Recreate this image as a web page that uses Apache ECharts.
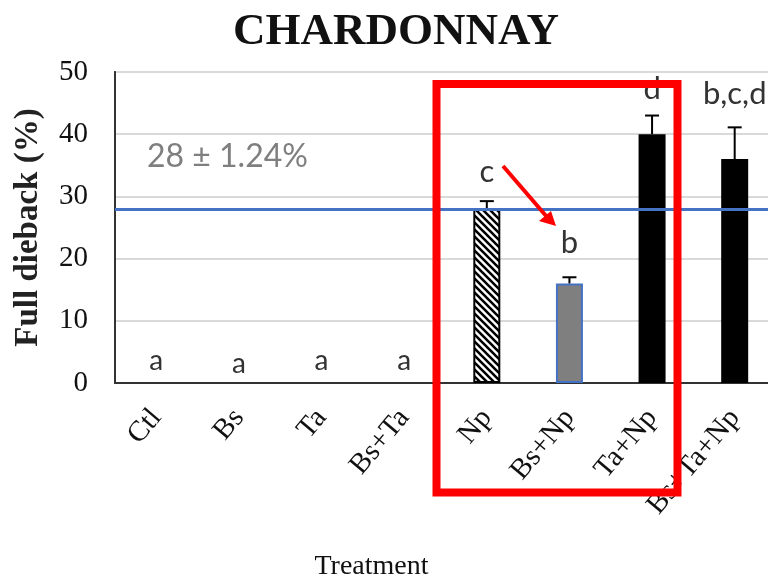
<!DOCTYPE html>
<html>
<head>
<meta charset="utf-8">
<script src="https://cdn.jsdelivr.net/npm/echarts@6/dist/echarts.min.js"></script>
<style>
  html, body { margin: 0; padding: 0; background: #ffffff; }
  #chart { width: 768px; height: 583px; }
</style>
</head>
<body>
<div id="chart"></div>
<script>
// Treatments and full dieback (%) per treatment
const categories = ['Ctl', 'Bs', 'Ta', 'Bs+Ta', 'Np', 'Bs+Np', 'Ta+Np', 'Bs+Ta+Np'];
const dieback = [0, 0, 0, 0, 28, 16, 40, 36];
const stdError = [0, 0, 0, 0, 1.24, 1.0, 3.0, 5.1];
// Statistical grouping letters and the height (in %) where each is written
const groupLetters = ['a', 'a', 'a', 'a', 'c', 'b', 'd', 'b,c,d'];
const letterHeights = [3.5, 3.0, 3.5, 3.5, 34, 22.5, 47.2, 46.5];
// Reference level of the Np treatment
const referenceLevel = 28;
const referenceText = '28 ± 1.24%';
// Y axis range
const yMin = 0, yMax = 50, yStep = 10;

const SERIF = '"Liberation Serif", "Times New Roman", serif';
const SANS = 'Lato, "Open Sans", sans-serif';

// Diagonal hatch fill for the Np bar
function hatchPattern() {
  const s = 7;
  const c = document.createElement('canvas');
  c.width = s; c.height = s;
  const g = c.getContext('2d');
  g.fillStyle = '#ffffff';
  g.fillRect(0, 0, s, s);
  g.strokeStyle = '#000000';
  g.lineWidth = 2.6;
  g.beginPath();
  for (let k = -1; k <= 1; k++) {
    g.moveTo(-1, -1 + k * s);
    g.lineTo(s + 1, s + 1 + k * s);
  }
  g.stroke();
  return c;
}

const barStyles = {
  'Np': { color: { image: hatchPattern(), repeat: 'repeat' }, borderColor: '#000000', borderWidth: 2 },
  'Bs+Np': { color: '#7f7f7f', borderColor: '#4472c4', borderWidth: 2 },
  'Ta+Np': { color: '#000000' },
  'Bs+Ta+Np': { color: '#000000' }
};

const barData = categories.map((c, i) => ({
  value: dieback[i],
  itemStyle: barStyles[c] || { color: '#000000' }
}));

const chart = echarts.init(document.getElementById('chart'), null, { renderer: 'canvas' });

chart.setOption({
  animation: false,
  backgroundColor: '#ffffff',
  title: {
    text: 'CHARDONNAY',
    left: 391,
    textAlign: 'center',
    top: 5,
    textStyle: { fontFamily: SERIF, fontWeight: 'bold', fontSize: 45, color: '#111111' }
  },
  grid: {
    left: 115, right: -8, top: 72, bottom: 200,
    containLabel: false,
    outerBoundsMode: 'none',
    show: true,
    borderColor: '#333333',
    borderWidth: 2,
    backgroundColor: 'transparent'
  },
  xAxis: {
    type: 'category',
    data: categories,
    boundaryGap: true,
    axisLine: { show: true, lineStyle: { color: '#333333', width: 2 } },
    axisTick: { show: false },
    axisLabel: {
      rotate: 50,
      margin: 30,
      interval: 0,
      fontFamily: SERIF,
      fontSize: 29,
      color: '#111111'
    },
    name: 'Treatment',
    nameLocation: 'middle',
    nameGap: 170,
    nameTextStyle: {
      fontFamily: SERIF, fontSize: 28, color: '#111111',
      padding: [0, 148, 0, 0]
    }
  },
  yAxis: {
    type: 'value',
    min: yMin, max: yMax, interval: yStep,
    axisLine: { show: true, lineStyle: { color: '#333333', width: 2 } },
    axisTick: { show: false },
    splitLine: { show: true, lineStyle: { color: '#d9d9d9', width: 2 } },
    axisLabel: {
      margin: 27,
      fontFamily: SERIF,
      fontSize: 29,
      color: '#111111'
    },
    name: 'Full dieback (%)',
    nameLocation: 'middle',
    nameRotate: 90,
    nameGap: 70,
    nameTextStyle: { fontFamily: SERIF, fontSize: 33, fontWeight: 'bold', color: '#222222' }
  },
  series: [
    {
      name: 'Full dieback',
      type: 'bar',
      data: barData,
      barWidth: 27,
      z: 2,
      markLine: {
        silent: true,
        symbol: ['none', 'none'],
        label: { show: false },
        lineStyle: { color: '#4472c4', width: 3, type: 'solid' },
        data: [{ yAxis: referenceLevel }]
      }
    },
    {
      name: 'Error',
      type: 'custom',
      z: 3,
      data: categories.map((c, i) => [i, dieback[i], stdError[i]]),
      renderItem(params, api) {
        const x = api.value(0), v = api.value(1), e = api.value(2);
        if (!e) return null;
        const base = api.coord([x, v]);
        const top = api.coord([x, v + e]);
        const hw = 7;
        return {
          type: 'group',
          children: [
            { type: 'line', shape: { x1: base[0], y1: base[1], x2: top[0], y2: top[1] },
              style: { stroke: '#000000', lineWidth: 2 } },
            { type: 'line', shape: { x1: top[0] - hw, y1: top[1], x2: top[0] + hw, y2: top[1] },
              style: { stroke: '#000000', lineWidth: 2 } }
          ]
        };
      }
    },
    {
      name: 'Groups',
      type: 'custom',
      z: 4,
      data: categories.map((c, i) => [i, letterHeights[i]]),
      renderItem(params, api) {
        const p = api.coord([api.value(0), api.value(1)]);
        const txt = groupLetters[params.dataIndex];
        return {
          type: 'text',
          x: p[0], y: p[1],
          style: {
            text: txt,
            align: 'center',
            verticalAlign: 'middle',
            fontFamily: SANS,
            fontSize: txt === 'a' ? 28 : 31,
            fill: '#333333'
          }
        };
      }
    }
  ],
  graphic: [
    {
      type: 'text',
      left: 147, top: 141,
      z: 10,
      style: { text: referenceText, fontFamily: SANS, fontSize: 32, fill: '#7f7f7f' }
    },
    {
      type: 'rect',
      z: 20,
      shape: { x: 436.5, y: 84, width: 241, height: 408.5 },
      style: { fill: 'none', stroke: '#ff0000', lineWidth: 8 }
    },
    {
      type: 'line',
      z: 20,
      shape: { x1: 503, y1: 166, x2: 547, y2: 217 },
      style: { stroke: '#ff0000', lineWidth: 4 }
    },
    {
      type: 'polygon',
      z: 20,
      shape: { points: [[556, 226], [539, 221], [551, 211]] },
      style: { fill: '#ff0000' }
    }
  ]
});
</script>
</body>
</html>
